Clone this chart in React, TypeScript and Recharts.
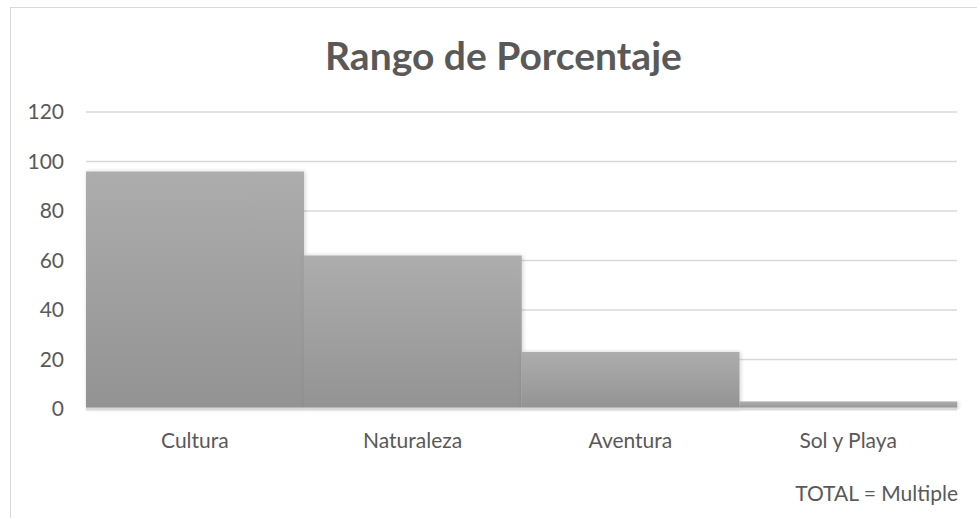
import { BarChart, Bar, XAxis, YAxis, CartesianGrid } from 'recharts'

const categories = ['Cultura', 'Naturaleza', 'Aventura', 'Sol y Playa']
const values = [96, 62, 23, 3]
const yTicks = [0, 20, 40, 60, 80, 100, 120]

const data = categories.map((name, i) => ({ name, value: values[i] }))

const FONT = 'Lato, "Open Sans", sans-serif'
const TEXT = '#595959'

export default function App() {
  return (
    <div style={{ position: 'absolute', left: 0, top: 0, width: 977, height: 518, background: '#fff', fontFamily: FONT, overflow: 'hidden' }}>
      {/* chart frame */}
      <div style={{ position: 'absolute', left: 10, top: 7, width: 990, height: 540, border: '1px solid #d9d9d9' }} />
      <div style={{ position: 'absolute', left: 0, top: 32, width: 1007, textAlign: 'center', fontSize: 39, fontWeight: 700, color: TEXT, lineHeight: 1.2 }}>
        Rango de Porcentaje
      </div>
      <BarChart width={977} height={518} data={data} barCategoryGap={0} margin={{ top: 112, right: 20, bottom: 79, left: 0 }} style={{ position: 'absolute', left: 0, top: 0 }}>
        <defs>
          <linearGradient id="barFill" x1="0" y1="0" x2="0" y2="1">
            <stop offset="0%" stopColor="#adadad" />
            <stop offset="100%" stopColor="#939393" />
          </linearGradient>
          <filter id="shadow" x="-5%" y="-5%" width="110%" height="110%">
            <feDropShadow dx="1" dy="0" stdDeviation="2" floodColor="#000" floodOpacity="0.18" />
          </filter>
        </defs>
        <CartesianGrid vertical={false} stroke="#d9d9d9" strokeWidth={1.5} />
        <XAxis dataKey="name" axisLine={{ stroke: '#d9d9d9', strokeWidth: 3 }} tickLine={false} tickMargin={18} height={30} tick={{ fill: TEXT, fontSize: 21, fontFamily: FONT }} />
        <YAxis domain={[0, 120]} ticks={yTicks} width={86} axisLine={false} tickLine={false} tickMargin={16} tick={{ fill: TEXT, fontSize: 21, fontFamily: FONT }} />
        <Bar dataKey="value" fill="url(#barFill)" filter="url(#shadow)" isAnimationActive={false} />
      </BarChart>
      <div style={{ position: 'absolute', right: 19, top: 480, fontSize: 21, color: TEXT, lineHeight: 1.2 }}>TOTAL = Multiple</div>
    </div>
  )
}
